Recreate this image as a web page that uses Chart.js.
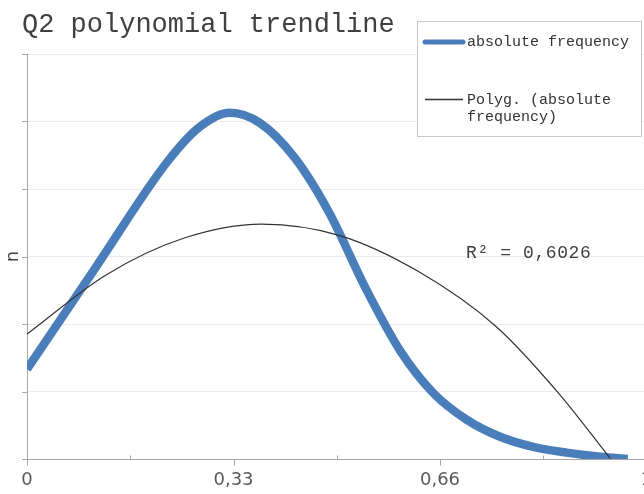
<!DOCTYPE html>
<html><head><meta charset="utf-8">
<script src="https://cdn.jsdelivr.net/npm/chart.js@4.4.1/dist/chart.umd.min.js"></script>
<style>html,body{margin:0;padding:0;background:#fff;overflow:hidden}#wrap{width:644px;height:494px;position:relative}</style>
</head><body><div id="wrap"><canvas id="c" width="644" height="494"></canvas></div>
<script>
const chartTitle = 'Q2 polynomial trendline';
const yAxisTitle = 'n';
const seriesName = 'absolute frequency';
const trendName = ['Polyg. (absolute', 'frequency)'];
const rSquaredLabel = 'R\u00B2 = 0,6026';
const xTickValues = [0, 0.165, 0.33, 0.495, 0.66, 0.825, 0.99];
const xTickLabels = ['0', '', '0,33', '', '0,66', '', '1'];
const yTickValues = [0, 1, 2, 3, 4, 5, 6];
const freqX = [0, 0.112, 0.224, 0.276, 0.324, 0.372, 0.428, 0.484, 0.540, 0.596, 0.649, 0.703, 0.756, 0.809, 0.862, 0.916, 0.960];
const freqY = [1.33, 2.87, 4.40, 4.92, 5.13, 4.98, 4.46, 3.63, 2.55, 1.61, 0.98, 0.58, 0.33, 0.18, 0.095, 0.034, 0.0];
const trendX = [0, 0.125, 0.25, 0.375, 0.5, 0.625, 0.75, 0.85, 0.932];
const trendY = [1.85, 2.72, 3.27, 3.48, 3.31, 2.78, 1.96, 0.97, 0.01];

const BLUE = '#4a7ebb';
const TREND = '#333333';
const AXIS = '#a6a6a6';
const TEXT = '#404040';

const toPts = (xs, ys) => xs.map((x, i) => ({x: x, y: ys[i]}));

const decor = {
  id: 'decor',
  beforeDatasetsDraw(chart) {
    const ctx = chart.ctx, xs = chart.scales.x, ys = chart.scales.y;
    const area = chart.chartArea;
    ctx.save();
    ctx.strokeStyle = AXIS; ctx.lineWidth = 1;
    ctx.beginPath();
    yTickValues.forEach(v => {
      const py = Math.round(ys.getPixelForValue(v)) + 0.5;
      ctx.moveTo(area.left - 5, py); ctx.lineTo(area.left, py);
    });
    xTickValues.forEach((v, i) => {
      const px = Math.round(xs.getPixelForValue(v)) + 0.5;
      const by = Math.round(area.bottom) + 0.5;
      if (xTickLabels[i] !== '') { ctx.moveTo(px, by); ctx.lineTo(px, by + 6); }
      else { ctx.moveTo(px, by - 4); ctx.lineTo(px, by); }
    });
    ctx.stroke();
    ctx.restore();
  },
  afterDraw(chart) {
    const ctx = chart.ctx;
    ctx.save();
    ctx.fillStyle = TEXT;
    ctx.font = '27px "Liberation Mono"';
    ctx.textBaseline = 'alphabetic';
    ctx.textAlign = 'left';
    ctx.fillText(chartTitle, 22, 32);
    ctx.fillStyle = '#ffffff';
    ctx.fillRect(417, 21, 224, 115);
    ctx.strokeStyle = '#c8c8c8'; ctx.lineWidth = 1;
    ctx.strokeRect(417.5, 21.5, 224, 115);
    ctx.strokeStyle = BLUE; ctx.lineWidth = 5; ctx.lineCap = 'round';
    ctx.beginPath(); ctx.moveTo(425, 42); ctx.lineTo(463, 42); ctx.stroke();
    ctx.strokeStyle = TREND; ctx.lineWidth = 1.3; ctx.lineCap = 'butt';
    ctx.beginPath(); ctx.moveTo(425, 99.5); ctx.lineTo(463, 99.5); ctx.stroke();
    ctx.fillStyle = '#333333';
    ctx.font = '15px "Liberation Mono"';
    ctx.textBaseline = 'middle';
    ctx.fillText(seriesName, 467, 42);
    ctx.fillText(trendName[0], 467, 100);
    ctx.fillText(trendName[1], 467, 117);
    ctx.fillStyle = TEXT;
    ctx.font = '18px "Liberation Mono"';
    try { ctx.letterSpacing = '0.6px'; } catch (e) {}
    ctx.fillText(rSquaredLabel, 466, 253);
    ctx.restore();
  }
};

new Chart(document.getElementById('c'), {
  type: 'scatter',
  data: {
    datasets: [
      {label: trendName.join(' '), data: toPts(trendX, trendY), showLine: true, borderColor: TREND, borderWidth: 1.2,
       pointRadius: 0, cubicInterpolationMode: 'monotone', order: 0},
      {label: seriesName, data: toPts(freqX, freqY), showLine: true, borderColor: BLUE, borderWidth: 8.5,
       pointRadius: 0, cubicInterpolationMode: 'monotone', order: 1}
    ]
  },
  options: {
    responsive: false,
    animation: false,
    devicePixelRatio: 1,
    layout: {padding: {top: 54, right: 0, bottom: 0, left: 0}},
    plugins: {legend: {display: false}, title: {display: false}, tooltip: {enabled: false}},
    scales: {
      x: {
        type: 'linear', min: 0, max: 0.986,
        afterBuildTicks: s => { s.ticks = xTickValues.map(v => ({value: v})); },
        afterFit: s => { s.height = 35; s.paddingLeft = 0; s.paddingRight = 0; },
        grid: {display: false, drawTicks: false},
        border: {display: true, color: AXIS, width: 1},
        ticks: {autoSkip: false, maxRotation: 0, padding: 11, color: '#595959',
                font: {family: 'DejaVu Sans', size: 18},
                callback: (v, i) => xTickLabels[i]}
      },
      y: {
        min: 0, max: 6,
        afterBuildTicks: s => { s.ticks = yTickValues.map(v => ({value: v})); },
        afterFit: s => { s.width = 27; s.paddingTop = 0; s.paddingBottom = 0; },
        grid: {color: '#ebebeb', drawTicks: false},
        border: {display: true, color: AXIS, width: 1},
        ticks: {display: false},
        title: {display: true, text: yAxisTitle, color: TEXT, padding: {top: 3, bottom: 0},
                font: {family: 'DejaVu Sans', size: 18}}
      }
    }
  },
  plugins: [decor]
});
</script></body></html>
